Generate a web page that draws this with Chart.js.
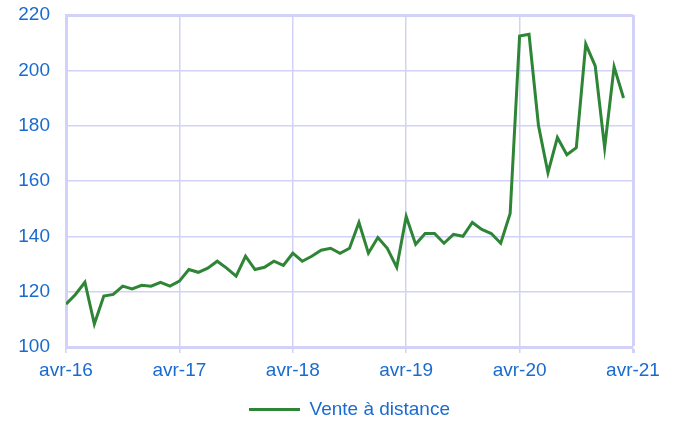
<!DOCTYPE html>
<html><head><meta charset="utf-8">
<script src="https://cdn.jsdelivr.net/npm/chart.js@4"></script>
<style>html,body{margin:0;padding:0;background:#fff}#wrap{width:675px;height:422px}</style>
</head><body><div id="wrap"><canvas id="c" width="675" height="422"></canvas></div>
<script>
const seriesName = "Vente à distance";
const tickLabels = ["avr-16","avr-17","avr-18","avr-19","avr-20","avr-21"];
const monthIndex = [0,1,2,3,4,5,6,7,8,9,10,11,12,13,14,15,16,17,18,19,20,21,22,23,24,25,26,27,28,29,30,31,32,33,34,35,36,37,38,39,40,41,42,43,44,45,46,47,48,49,50,51,52,53,54,55,56,57,58,59];
const values = [115.5,119,123.4,108.3,118.4,119,122,121,122.3,122,123.4,122,
  123.8,128,127,128.5,131,128.5,125.6,132.8,128,128.8,131,129.5,
  133.9,131,132.8,135,135.7,133.9,135.7,145,133.9,139.6,135.7,128.8,
  147.2,137.1,141,141,137.5,140.7,140,145,142.5,141,137.5,148.3,
  212.4,213,180,163,175.7,169.5,172,209.5,201.6,172,201.3,190];
const blue = '#1A6BD0';
const grid = '#D2D2F8';
const font = { family: 'Liberation Sans, Arial', size: 19 };
new Chart(document.getElementById('c'), {
  type: 'line',
  data: { datasets: [{ label: seriesName, data: monthIndex.map((m,i)=>({x:m,y:values[i]})),
    borderColor: '#2E8536', backgroundColor: '#2E8536', borderWidth: 3, pointRadius: 0, tension: 0 }] },
  options: {
    responsive: false, animation: false,
    layout: { padding: { left: 0, right: 42, top: 15, bottom: -7 } },
    plugins: { legend: { position: 'bottom', fullSize: false, labels: { color: blue, font: font, boxWidth: 51, boxHeight: 0, padding: 5 } }, tooltip: { enabled: false } },
    scales: {
      x: { type: 'linear', min: 0, max: 60,
        afterFit: (s) => { s.height = 48; s.paddingLeft = 0; s.paddingRight = 0; },
        grid: { color: grid, lineWidth: (c) => (c.tick && c.tick.value === 60) ? 3 : 1.5, tickLength: 6, drawTicks: true },
        border: { color: grid, width: 3 },
        ticks: { stepSize: 12, color: blue, font: font, maxRotation: 0, padding: 6,
          callback: (v) => tickLabels[v/12] } },
      y: { min: 100, max: 220,
        afterFit: (s) => { s.width = 66; s.paddingTop = 0; s.paddingBottom = 0; },
        grid: { color: grid, lineWidth: (c) => (c.tick && c.tick.value === 220) ? 3 : 1.5, drawTicks: false },
        border: { color: grid, width: 3 },
        ticks: { stepSize: 20, color: blue, font: font, padding: 16 } }
    }
  }
});
</script></body></html>
